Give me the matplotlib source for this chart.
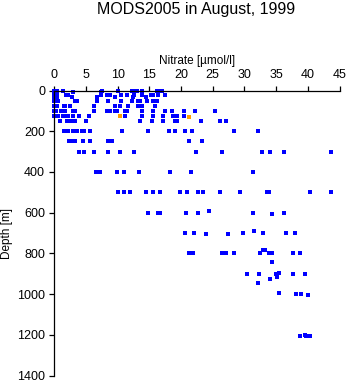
import matplotlib
matplotlib.use('Agg')
import matplotlib.pyplot as plt

# ---- data: nitrate [umol/l] vs depth [m]
# blue points (all stations)
nitrate_blue = [
    0.0, 0.15, 0.35, 1.4, 7.5, 10.0, 12.3, 12.6, 13.0, 13.8, 16.2, 16.5, 16.8, 17.0,
    0.0, 0.3, 2.9, 7.3,
    0.0, 0.35, 1.8, 2.1, 7.4, 8.3, 8.8, 10.6, 11.4, 12.6, 13.8, 15.3, 15.5, 16.4, 17.4,
    0.0, 0.2, 0.5, 2.85, 6.7, 9.6, 12.4, 14.5,
    0.0, 0.2, 0.6, 3.3, 3.6, 6.7, 8.5, 10.5, 12.2, 13.2, 13.6, 14.6, 15.5, 16.2,
    0.0, 0.4, 1.5, 1.7, 2.5, 6.3, 9.5, 10.4, 11.7, 13.2, 13.8, 15.9,
    0.0, 0.3, 1.0, 1.4, 1.7, 3.0, 3.3, 6.3, 8.3, 8.8, 9.6, 9.9, 11.2, 11.4, 13.8,
    15.6, 17.4, 18.5, 20.5, 22.2, 25.4,
    0.0, 0.3, 0.6, 1.4, 1.8, 2.0, 2.2, 3.0, 3.95, 5.4, 11.2, 13.8, 15.6, 17.2, 18.7,
    19.4, 20.4,
    0.9, 1.95, 2.6, 3.2, 5.0, 13.5, 15.4, 17.1, 19.1, 19.4, 23.1, 26.2, 27.1,
    1.5, 2.2, 3.0, 3.6, 4.3, 4.7, 5.7, 10.7, 14.8, 18.1, 19.1, 20.7, 21.7, 28.3, 32.2,
    2.3, 2.75, 3.2, 4.6, 5.6, 8.5, 8.8, 9.1, 21.3, 23.3,
    3.95, 4.7, 6.3, 8.4, 10.3, 12.5, 22.4, 26.4, 32.8, 34.1, 36.2, 43.6,
    6.6, 6.95, 7.2, 9.85, 11.05, 13.4, 18.3, 21.5, 31.3,
    10.1, 11.05, 12.0, 14.4, 15.6, 16.6, 19.9, 21.0, 22.7, 23.5, 26.2, 29.3, 33.5,
    33.85, 40.4, 43.7,
    14.85, 16.4, 16.6, 20.8, 22.7, 24.4, 31.4, 34.4, 36.2,
    20.7, 22.1, 24.0, 27.4, 29.8, 31.5, 33.0, 36.6, 37.9,
    21.3, 21.9, 26.5, 27.1, 28.4, 32.5, 32.9, 33.3, 33.9, 34.3, 37.7, 38.7, 34.3,
    30.4, 32.3, 35.0, 35.5, 37.7, 39.6, 32.2, 34.1, 35.2,
    35.5, 38.2, 39.0, 39.95,
    38.8, 39.5, 39.7, 40.1, 40.4,
]
depth_blue = (
    [0] * 14 + [8] * 4 + [20] * 15 + [30] * 8 + [50] * 14 + [75] * 12 + [100] * 21
    + [125] * 17 + [150] * 13 + [200] * 15 + [250] * 10 + [300] * 12 + [400] * 9
    + [500] * 16
    + [600, 600, 600, 600, 600, 590, 600, 605, 600]
    + [700, 700, 705, 705, 700, 690, 700, 700, 700]
    + [800, 800, 800, 800, 800, 800, 785, 785, 800, 800, 800, 800, 841]
    + [900, 900, 900, 895, 900, 900, 946, 923, 917]
    + [994, 1000, 1000, 1005]
    + [1203, 1200, 1203, 1203, 1203]
)

# orange points
nitrate_orange = [10.4, 21.3]
depth_orange = [125, 130]


# ---- figure
fig = plt.figure(figsize=(3.48, 3.84), dpi=100)
plt.rcParams['font.family'] = ['Liberation Sans', 'DejaVu Sans']
ax = fig.add_axes([0.156, 0.0216, 0.8196, 0.7427])

# small crisp squares, no smoothing (the original is a bitmap plot)
ax.plot(nitrate_blue, depth_blue, 's', color='#0000ff', markersize=2.2,
        markeredgewidth=0, antialiased=False, clip_on=False)
ax.plot(nitrate_orange, depth_orange, 's', color='#ffa000', markersize=2.2,
        markeredgewidth=0, antialiased=False, clip_on=False)

ax.set_xlim(0, 45)
ax.set_ylim(1400, 0)
ax.set_xticks(range(0, 46, 5))
ax.set_yticks(range(0, 1401, 200))

# axes only on top and left, like the original
ax.spines['bottom'].set_visible(False)
ax.spines['right'].set_visible(False)
ax.spines['top'].set_linewidth(0.9)
ax.spines['left'].set_linewidth(0.9)
ax.xaxis.tick_top()
ax.xaxis.set_label_position('top')
ax.tick_params(axis='both', direction='out', length=3.6, width=0.9,
               labelsize=9, pad=3)

ax.set_xlabel('Nitrate [\u00b5mol/l]', fontsize=8.5, labelpad=4)
ax.set_ylabel('Depth [m]', fontsize=8.5, labelpad=3)

fig.suptitle('MODS2005 in August, 1999', fontsize=11.5, x=0.563, y=0.995, va='top')

fig.savefig('out.png', dpi=100)
